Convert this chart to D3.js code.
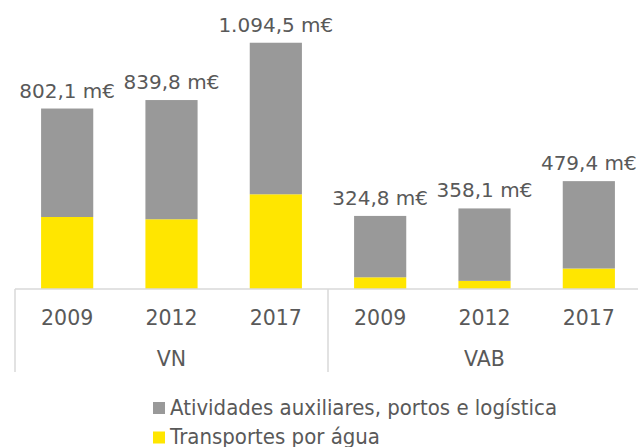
<!DOCTYPE html>
<html>
<head>
<meta charset="utf-8">
<script src="https://cdn.jsdelivr.net/npm/d3@7"></script>
<style>
  body { margin: 0; background: #fff; }
  text { font-family: "DejaVu Sans", sans-serif; fill: #595959; }
</style>
</head>
<body>
<svg width="638" height="447"></svg>
<script>
const groups = ["VN", "VAB"];
const years = ["2009", "2012", "2017"];
const totals = [802.1, 839.8, 1094.5, 324.8, 358.1, 479.4];
const transportes = [320, 310, 421, 52, 36, 91];
const totalLabels = ["802,1 m€", "839,8 m€", "1.094,5 m€", "324,8 m€", "358,1 m€", "479,4 m€"];
const seriesNames = ["Atividades auxiliares, portos e logística", "Transportes por água"];
const colors = ["#999999", "#ffe600"];

const svg = d3.select("svg");
const baseY = 289;

const keys = [];
groups.forEach((g) => years.forEach((y) => keys.push(g + "-" + y)));

const rows = keys.map((k, i) => ({
  key: k,
  year: k.split("-")[1],
  transportes: transportes[i],
  atividades: totals[i] - transportes[i],
  total: totals[i],
  label: totalLabels[i]
}));

const x = d3.scaleBand().domain(keys).range([15, 641]).paddingInner(0.5).paddingOuter(0.25);
const y = d3.scaleLinear().domain([0, 1200]).range([baseY, baseY - 270]);

const stack = d3.stack().keys(["transportes", "atividades"]);
const layers = stack(rows);

svg.selectAll("g.layer")
  .data(layers)
  .enter()
  .append("g")
  .attr("class", "layer")
  .attr("fill", (d, i) => (i === 0 ? colors[1] : colors[0]))
  .selectAll("rect")
  .data((d) => d)
  .enter()
  .append("rect")
  .attr("x", (d) => x(d.data.key))
  .attr("width", x.bandwidth())
  .attr("y", (d) => y(d[1]))
  .attr("height", (d) => y(d[0]) - y(d[1]));

// total labels
svg.selectAll("text.total")
  .data(rows)
  .enter()
  .append("text")
  .attr("class", "total")
  .attr("x", (d) => x(d.key) + x.bandwidth() / 2)
  .attr("y", (d) => y(d.total) - 11)
  .attr("text-anchor", "middle")
  .attr("font-size", 20)
  .text((d) => d.label);

// axis lines
const step = x.step();
const left = x.range()[0];
svg.append("line")
  .attr("x1", left).attr("x2", 641)
  .attr("y1", baseY).attr("y2", baseY)
  .attr("stroke", "#d9d9d9").attr("stroke-width", 1.5);

svg.selectAll("line.sep")
  .data([0, 1, 2])
  .enter()
  .append("line")
  .attr("class", "sep")
  .attr("x1", (d) => left + d * 3 * step)
  .attr("x2", (d) => left + d * 3 * step)
  .attr("y1", baseY).attr("y2", 372)
  .attr("stroke", "#d9d9d9").attr("stroke-width", 1.5);

// year labels
svg.selectAll("text.year")
  .data(rows)
  .enter()
  .append("text")
  .attr("class", "year")
  .attr("x", (d) => x(d.key) + x.bandwidth() / 2)
  .attr("y", 324.5)
  .attr("text-anchor", "middle")
  .attr("font-size", 20.5)
  .text((d) => d.year);

// group labels
svg.selectAll("text.group")
  .data(groups)
  .enter()
  .append("text")
  .attr("class", "group")
  .attr("x", (d, i) => left + (i * 3 + 1.5) * step)
  .attr("y", 366)
  .attr("text-anchor", "middle")
  .attr("font-size", 20.5)
  .text((d) => d);

// legend
const legendWidths = [387, 210];
const legend = svg.selectAll("g.legend")
  .data(seriesNames)
  .enter()
  .append("g")
  .attr("class", "legend")
  .attr("transform", (d, i) => `translate(153, ${402 + i * 29.5})`);

legend.append("rect")
  .attr("width", 12).attr("height", 12)
  .attr("fill", (d, i) => colors[i]);

legend.append("text")
  .attr("x", 17)
  .attr("y", 12.5)
  .attr("font-size", 21)
  .attr("font-family", "'DejaVu Sans Condensed', 'DejaVu Sans', sans-serif")
  .attr("textLength", (d, i) => legendWidths[i])
  .attr("lengthAdjust", "spacingAndGlyphs")
  .text((d) => d);
</script>
</body>
</html>
